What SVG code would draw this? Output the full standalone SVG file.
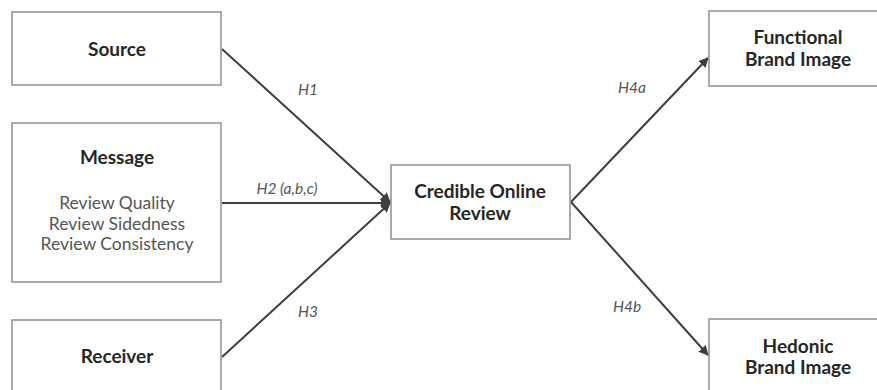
<svg xmlns="http://www.w3.org/2000/svg" width="877" height="390" viewBox="0 0 877 390">
<style>
.box{fill:#fff;stroke:#8f8f8f;stroke-width:1.5}
.t{font-family:Lato,"Liberation Sans",sans-serif;font-weight:bold;font-size:19px;fill:#262626;text-anchor:middle}
.s{font-family:Lato,"Liberation Sans",sans-serif;font-size:17.5px;fill:#555;text-anchor:middle}
.l{font-family:Lato,"Liberation Sans",sans-serif;font-style:italic;font-size:15.5px;fill:#555;text-anchor:middle}
.c{stroke:#3e3e3e;stroke-width:2;fill:none}
</style>
<defs>
<marker id="ah" viewBox="0 0 10 10" refX="9" refY="5" markerWidth="10" markerHeight="10" orient="auto" markerUnits="userSpaceOnUse">
<path d="M0,0 L10,5 L0,10 z" fill="#3e3e3e"/>
</marker>
</defs>
<rect width="877" height="390" fill="#fff"/>
<g id="connectors">
<line class="c" x1="222" y1="49" x2="390" y2="202" marker-end="url(#ah)"/>
<line class="c" x1="222" y1="203" x2="390" y2="203" marker-end="url(#ah)"/>
<line class="c" x1="222" y1="357" x2="390" y2="203" marker-end="url(#ah)"/>
<line class="c" x1="571" y1="202" x2="708" y2="58" marker-end="url(#ah)"/>
<line class="c" x1="571" y1="202" x2="708" y2="355" marker-end="url(#ah)"/>
<text class="l" x="308" y="95">H1</text>
<text class="l" x="287" y="194">H2 (a,b,c)</text>
<text class="l" x="308" y="317">H3</text>
<text class="l" x="632" y="93">H4a</text>
<text class="l" x="627" y="312">H4b</text>
</g>
<g id="source">
<rect class="box" x="12" y="12" width="209" height="73"/>
<text class="t" x="117" y="56">Source</text>
</g>
<g id="message">
<rect class="box" x="12" y="123" width="209" height="159"/>
<text class="t" x="117" y="164">Message</text>
<text class="s" x="117" y="209">Review Quality</text>
<text class="s" x="117" y="230">Review Sidedness</text>
<text class="s" x="117" y="250">Review Consistency</text>
</g>
<g id="receiver">
<rect class="box" x="12" y="320" width="209" height="80"/>
<text class="t" x="117" y="363">Receiver</text>
</g>
<g id="credible">
<rect class="box" x="391" y="165" width="179" height="74"/>
<text class="t" x="480" y="198">Credible Online</text>
<text class="t" x="480" y="220">Review</text>
</g>
<g id="functional">
<rect class="box" x="709" y="11" width="180" height="75"/>
<text class="t" x="798" y="44">Functional</text>
<text class="t" x="798" y="66">Brand Image</text>
</g>
<g id="hedonic">
<rect class="box" x="709" y="319" width="180" height="80"/>
<text class="t" x="798" y="353">Hedonic</text>
<text class="t" x="798" y="374">Brand Image</text>
</g>
</svg>
